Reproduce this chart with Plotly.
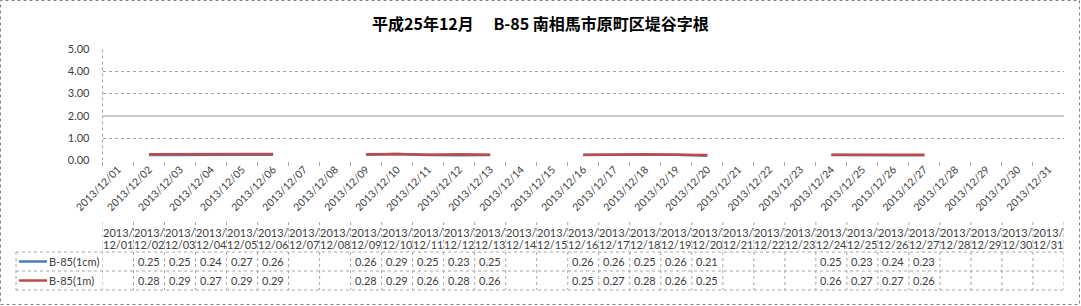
import plotly.graph_objects as go

# ---- data ----
dates = [f"2013/12/{d:02d}" for d in range(1, 32)]
s1_name = "B-85(1cm)"
s2_name = "B-85(1m)"
s1_vals = [None, 0.25, 0.25, 0.24, 0.27, 0.26, None, None, 0.26, 0.29, 0.25, 0.23, 0.25, None, None,
           0.26, 0.26, 0.25, 0.26, 0.21, None, None, None, 0.25, 0.23, 0.24, 0.23, None, None, None, None]
s2_vals = [None, 0.28, 0.29, 0.27, 0.29, 0.29, None, None, 0.28, 0.29, 0.26, 0.28, 0.26, None, None,
           0.25, 0.27, 0.28, 0.26, 0.25, None, None, None, 0.26, 0.27, 0.27, 0.26, None, None, None, None]
y_ticks = [0, 1, 2, 3, 4, 5]
title = "平成25年12月　 B-85 南相馬市原町区堤谷字根"

W, H = 1081, 306
def px(x): return x / W
def py(y): return 1 - y / H

BLUE = "#4A7EBB"
RED = "#BE4B48"
GRID = "#A6A6A6"
TXT = "#404040"
FONT = "Lato"

fig = go.Figure()
fig.add_trace(go.Scatter(x=dates, y=s1_vals, mode="lines", name=s1_name,
                         line=dict(color=BLUE, width=2.5), connectgaps=False, showlegend=False))
fig.add_trace(go.Scatter(x=dates, y=s2_vals, mode="lines", name=s2_name,
                         line=dict(color=RED, width=2.5), connectgaps=False, showlegend=False))

shapes = []
ann = []

# outer border
shapes.append(dict(type="rect", xref="paper", yref="paper", x0=px(0.5), x1=px(W - 1.5), y0=py(H - 1.5), y1=py(0.5),
                   line=dict(color="#808080", width=1, dash="dot")))
# left axis line (dotted)
shapes.append(dict(type="line", xref="paper", yref="y", x0=px(102.5), x1=px(102.5), y0=0, y1=5,
                   line=dict(color=GRID, width=1, dash="dot")))
# highlighted 2.00 gridline
shapes.append(dict(type="line", xref="x", yref="y", x0=-0.5, x1=len(dates) - 0.5, y0=2, y1=2,
                   line=dict(color="#C8C8C8", width=2)))

# title
ann.append(dict(text="<b>" + title + "</b>", xref="paper", yref="paper", x=0.5, y=py(23),
                showarrow=False, xanchor="center", yanchor="middle",
                font=dict(family="Noto Sans CJK JP", size=16, color="#000000")))

# ---- data table ----
tbl_top, row1_top, row2_top, tbl_bot = 222, 252, 271, 290
leg_left = 16
n = len(dates)
for yy in (row1_top, row2_top, tbl_bot):
    shapes.append(dict(type="line", xref="paper", yref="paper", x0=px(leg_left), x1=px(1064), y0=py(yy), y1=py(yy),
                       line=dict(color=GRID, width=1, dash="dot")))
shapes.append(dict(type="line", xref="paper", yref="paper", x0=px(leg_left), x1=px(leg_left),
                   y0=py(row1_top), y1=py(tbl_bot), line=dict(color=GRID, width=1, dash="dot")))
for i in range(n + 1):
    shapes.append(dict(type="line", xref="x", yref="paper", x0=i - 0.5, x1=i - 0.5,
                       y0=py(tbl_top), y1=py(tbl_bot), line=dict(color=GRID, width=1, dash="dot")))

for i, d in enumerate(dates):
    y_part, md = d[:5], d[5:]
    ann.append(dict(text=y_part, xref="x", yref="paper", x=d, y=py(232), showarrow=False,
                    xanchor="center", yanchor="middle", font=dict(family=FONT, size=11, color=TXT)))
    ann.append(dict(text=md, xref="x", yref="paper", x=d, y=py(244), showarrow=False,
                    xanchor="center", yanchor="middle", font=dict(family=FONT, size=11, color=TXT)))
    for vals, yc in ((s1_vals, (row1_top + row2_top) / 2), (s2_vals, (row2_top + tbl_bot) / 2)):
        if vals[i] is not None:
            ann.append(dict(text=f"{vals[i]:.2f}", xref="x", yref="paper", x=d, y=py(yc), showarrow=False,
                            xanchor="center", yanchor="middle", font=dict(family=FONT, size=11, color=TXT)))

for name, col, yc in ((s1_name, BLUE, (row1_top + row2_top) / 2), (s2_name, RED, (row2_top + tbl_bot) / 2)):
    shapes.append(dict(type="line", xref="paper", yref="paper", x0=px(19), x1=px(47), y0=py(yc), y1=py(yc),
                       line=dict(color=col, width=2.5)))
    ann.append(dict(text=name, xref="paper", yref="paper", x=px(47), y=py(yc), showarrow=False,
                    xanchor="left", yanchor="middle", font=dict(family=FONT, size=11, color=TXT)))

fig.update_layout(
    width=W, height=H,
    margin=dict(l=0, r=0, t=0, b=0),
    paper_bgcolor="white", plot_bgcolor="white",
    showlegend=False,
    shapes=shapes, annotations=ann,
    xaxis=dict(domain=[px(102.5), px(1064)], type="category", categoryorder="array", categoryarray=dates,
               range=[-0.5, n - 0.5], tickangle=-45, ticks="outside", ticklen=4, tickcolor=GRID,
               tickson="boundaries", showgrid=False, showline=False, zeroline=False,
               tickfont=dict(family=FONT, size=10.5, color=TXT), automargin=False),
    yaxis=dict(domain=[py(160.5), py(49)], range=[0, 5], tickvals=y_ticks,
               ticktext=[f"{v:.2f}" for v in y_ticks], showgrid=True, gridcolor=GRID, griddash="dot",
               gridwidth=1, zeroline=False, showline=False, ticks="", ticklabelstandoff=12,
               tickfont=dict(family=FONT, size=11, color=TXT), automargin=False),
)

fig.write_html("out.html")
